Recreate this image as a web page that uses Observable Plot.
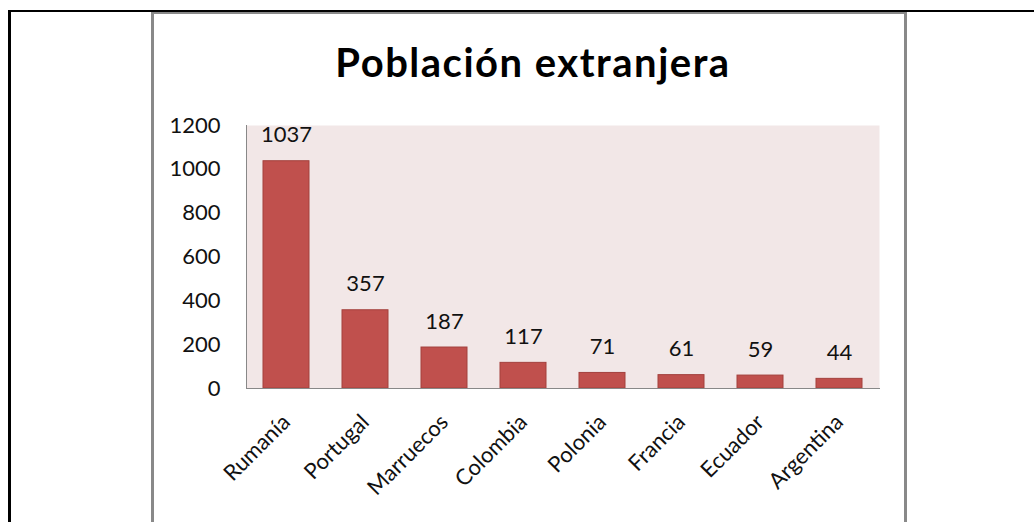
<!DOCTYPE html>
<html>
<head>
<meta charset="utf-8">
<script src="https://cdn.jsdelivr.net/npm/d3@7"></script>
<script src="https://cdn.jsdelivr.net/npm/@observablehq/plot@0.6"></script>
<style>
  html, body { margin: 0; padding: 0; background: #fff; }
  #wrap { position: relative; width: 1034px; height: 522px; overflow: hidden; font-family: Lato, sans-serif; }
  #outer { position: absolute; left: 8px; top: 10px; width: 1100px; height: 600px; border-left: 3px solid #000; border-top: 2px solid #000; box-sizing: border-box; }
  #inner { position: absolute; left: 151px; top: 12px; width: 756px; height: 600px; border-left: 3px solid #898989; border-right: 3px solid #898989; border-top: 2px solid #898989; box-sizing: border-box; }
  #title { position: absolute; left: 151px; width: 756px; top: 38px; text-align: center; font-family: Lato, sans-serif; font-weight: bold; font-size: 40px; letter-spacing: 1.5px; color: #000; padding-left: 8px; box-sizing: border-box; }
  #chart { position: absolute; left: 0; top: 0; }
</style>
</head>
<body>
<div id="wrap">
  <div id="outer"></div>
  <div id="inner"></div>
  <div id="title">Población extranjera</div>
  <div id="chart"></div>
</div>
<script>
const countries = ["Rumanía", "Portugal", "Marruecos", "Colombia", "Polonia", "Francia", "Ecuador", "Argentina"];
const values = [1037, 357, 187, 117, 71, 61, 59, 44];
const yTicks = [0, 200, 400, 600, 800, 1000, 1200];

const data = countries.map((c, i) => ({country: c, value: values[i]}));

const chart = Plot.plot({
  width: 1034,
  height: 522,
  marginLeft: 246,
  marginRight: 155,
  marginTop: 125,
  marginBottom: 134,
  style: {fontFamily: "Lato, sans-serif", fontSize: "22px", background: "transparent", color: "#111"},
  x: {domain: countries, paddingInner: 0.42, paddingOuter: 0.21, label: null},
  y: {domain: [0, 1200], label: null},
  marks: [
    Plot.frame({fill: "#F2E7E7", stroke: "none"}),
    Plot.barY(data, {x: "country", y: "value", fill: "#C0504D", stroke: "#A3403D", strokeWidth: 1}),
    Plot.frame({anchor: "left", stroke: "#888"}),
    Plot.frame({anchor: "bottom", stroke: "#888"}),
    Plot.text(data, {x: "country", y: "value", text: d => String(d.value), dy: -26, fontSize: 22, fill: "#111"}),
    Plot.axisY({ticks: yTicks, tickSize: 0, tickPadding: 26, tickFormat: d => String(d), fontSize: 22, label: null}),
    Plot.axisX({tickSize: 0, tickRotate: -45, tickPadding: 30, fontSize: 22, label: null})
  ]
});
document.getElementById("chart").appendChild(chart);
</script>
</body>
</html>
